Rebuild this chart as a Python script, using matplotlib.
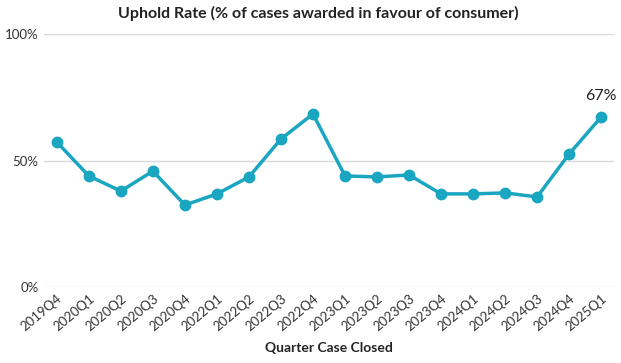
import matplotlib
matplotlib.use("Agg")
import matplotlib.pyplot as plt

quarters = ["2019Q4", "2020Q1", "2020Q2", "2020Q3", "2020Q4", "2022Q1", "2022Q2",
            "2022Q3", "2022Q4", "2023Q1", "2023Q2", "2023Q3", "2023Q4", "2024Q1",
            "2024Q2", "2024Q3", "2024Q4", "2025Q1"]
uphold = [57.3, 43.9, 37.9, 45.8, 32.4, 36.8, 43.5, 58.5, 68.4, 43.9, 43.5, 44.3,
          36.8, 36.8, 37.2, 35.6, 52.6, 67.2]

plt.rcParams['font.family'] = ['Lato', 'DejaVu Sans']
teal = '#1AA5C1'

fig = plt.figure(figsize=(6.21, 3.63), dpi=100)
ax = fig.add_axes([44/621, 1-287/363, 570/621, 253/363])

x = list(range(len(quarters)))
ax.plot(x, uphold, color=teal, lw=2.5, marker='o', ms=7.5, zorder=3)
ax.annotate(f"{round(uphold[-1])}%", (x[-1], uphold[-1]), xytext=(0, 10),
            textcoords='offset points', ha='center', va='bottom', fontsize=11.5, color='#222222')

ax.set_ylim(0, 100)
ax.set_xlim(-0.4, len(quarters) - 0.6)
ax.set_yticks([0, 50, 100])
ax.set_yticklabels(["0%", "50%", "100%"], fontsize=9.5, color='#333333')
ax.set_xticks(x)
ax.set_xticklabels(quarters, rotation=40, ha='right', rotation_mode='anchor', fontsize=9.5, color='#333333')
ax.tick_params(length=0, pad=4)
ax.grid(axis='y', color='#D9D9D9', lw=1)
for s in ax.spines.values():
    s.set_visible(False)
ax.set_xlabel("Quarter Case Closed", fontsize=10, fontweight='bold', color='#222222', labelpad=6)
fig.suptitle("Uphold Rate (% of cases awarded in favour of consumer)", x=318/621, y=0.985,
             fontsize=11.5, fontweight='bold', color='#222222')

fig.savefig("out.png", dpi=100)
